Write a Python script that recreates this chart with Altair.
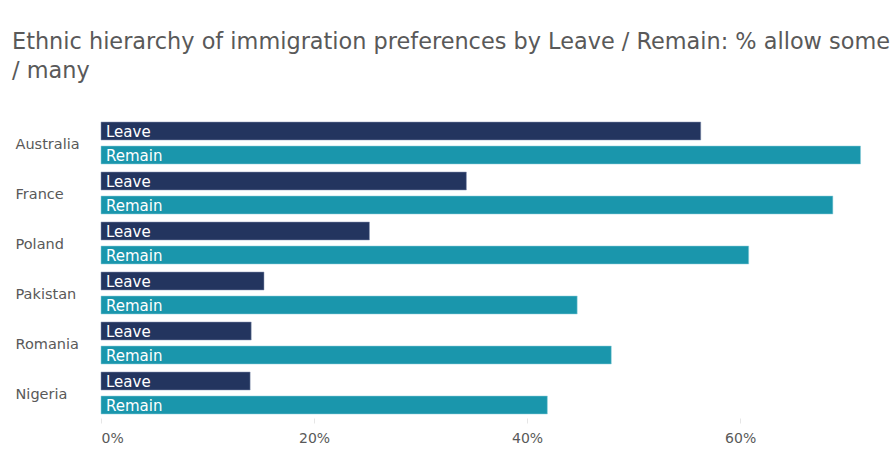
import altair as alt
import pandas as pd

countries = ["Australia", "France", "Poland", "Pakistan", "Romania", "Nigeria"]
series = ["Leave", "Remain"]
leave = [0.563, 0.343, 0.252, 0.153, 0.141, 0.140]
remain = [0.713, 0.687, 0.608, 0.447, 0.479, 0.419]

rows = []
for c, l, r in zip(countries, leave, remain):
    rows.append({"country": c, "group": "Leave", "value": l})
    rows.append({"country": c, "group": "Remain", "value": r})
df = pd.DataFrame(rows)

FONT = "DejaVu Sans"

y_enc = alt.Y("country:N", sort=countries, title=None,
              scale=alt.Scale(paddingInner=0.16, paddingOuter=0.08),
              axis=alt.Axis(labelAlign="left", labelPadding=86, labelOffset=2,
                            ticks=False, domain=False,
                            labelFontSize=14.5, labelColor="#595959", labelFont=FONT))
yoff = alt.YOffset("group:N", sort=series, scale=alt.Scale(paddingInner=0.25, paddingOuter=0))

base = alt.Chart(df).encode(y=y_enc, yOffset=yoff)

bars = base.mark_bar(strokeWidth=1, strokeOpacity=0.5).encode(
    x=alt.X("value:Q", title=None,
            scale=alt.Scale(domain=[0, 0.72], nice=False),
            axis=alt.Axis(format=".0%", values=[0, 0.2, 0.4, 0.6], grid=False, domain=False,
                          tickColor="#e6e6e6", tickSize=5, labelPadding=8,
                          labelFontSize=14, labelColor="#595959", labelFont=FONT)),
    color=alt.Color("group:N", sort=series, legend=None,
                    scale=alt.Scale(domain=series, range=["#23355F", "#1A96AC"])),
    stroke=alt.Stroke("group:N", sort=series, legend=None,
                      scale=alt.Scale(domain=series, range=["#8a96b3", "#8fd0dc"])),
)

labels = base.mark_text(align="left", baseline="middle", dx=5, dy=1, color="white",
                        fontSize=15, font=FONT).encode(
    x=alt.datum(0),
    text="group:N",
)

chart = (bars + labels).properties(
    width=767, height=300,
    padding={"left": 101, "top": 118, "right": 25, "bottom": 42},
    autosize=alt.AutoSizeParams(type="none"),
    title=alt.TitleParams(
        ["Ethnic hierarchy of immigration preferences by Leave / Remain: % allow some", "/ many"],
        anchor="start", dx=-3, offset=36, fontSize=22.4, fontWeight="normal",
        color="#595959", font=FONT, lineHeight=29,
    ),
).configure_view(stroke=None)

chart.save("out.html", embed_options={"renderer": "svg", "actions": False})
